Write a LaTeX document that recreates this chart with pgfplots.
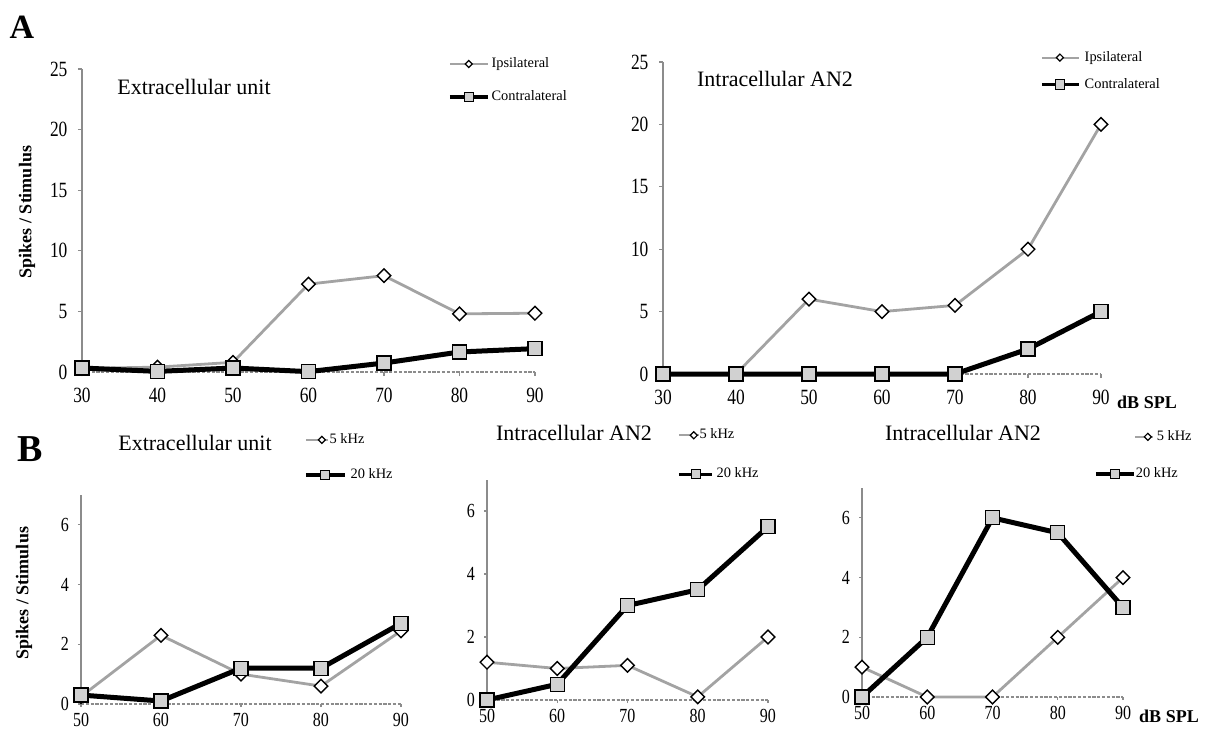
\documentclass[border=0pt]{standalone}
\usepackage{fontspec}
\setmainfont{Liberation Serif}
\usepackage{pgfplots}
\pgfplotsset{compat=1.18}

\definecolor{ipsigray}{gray}{0.64}
\definecolor{markfill}{gray}{0.82}
\definecolor{axisgray}{gray}{0.55}

\pgfplotsset{
  panel/.style={
    scale only axis,
    axis lines*=left,
    axis line style={axisgray, line width=0.7pt},
    x axis line style={dash pattern=on 1.6pt off 0.8pt},
    tick align=outside,
    major tick length=2pt,
    tick style={axisgray, line width=0.6pt},
    /pgf/number format/assume math mode=true,
    xticklabel={\scalebox{1}[1.25]{\pgfmathprintnumber{\tick}}},
    yticklabel={\scalebox{1}[1.25]{\pgfmathprintnumber{\tick}}},
    clip=false,
    ymin=0,
    legend cell align=left,
    legend style={draw=none, fill=none, inner sep=0pt, outer sep=0pt, anchor=north west,
      nodes={inner sep=0pt, text height=5pt, text depth=1.5pt,
             font=\fontsize{7.2}{7.2}\selectfont}},
  },
  panelA/.style={panel, xmin=30, xmax=90, xtick={30,40,...,90},
    ymax=25, ytick={0,5,...,25},
    tick label style={font=\fontsize{8.7}{9}\selectfont},
    xticklabel style={yshift=-2.5pt}, yticklabel style={xshift=-1.75pt}},
  panelB/.style={panel, xmin=50, xmax=90, xtick={50,60,...,90},
    ymax=7, ytick={0,2,4,6},
    major tick length=1.5pt,
    tick label style={font=\fontsize{8}{8}\selectfont},
    xticklabel style={yshift=0.3pt}, yticklabel style={xshift=-1pt}},
  ipsi/.style={ipsigray, line width=1.4pt, mark=square*, mark size=2.4pt,
    mark options={rotate=45, fill=white, draw=black, line width=0.7pt, solid}},
  contra/.style={black, line width=2.5pt, mark=square*, mark size=3.5pt,
    mark options={fill=markfill, draw=black, line width=0.6pt, solid}},
}

\begin{document}
\begin{tikzpicture}
\useasboundingbox (0,0) rectangle (603.5pt,-364.5pt);

% ---------------- A, left: extracellular unit ----------------
\begin{axis}[panelA, at={(41pt,-186pt)}, anchor=south west,
  width=226.5pt, height=151.5pt,
  legend style={at={(0.808,1.038)}, row sep=10pt, column sep=1pt}]
\addplot[ipsi, legend image code/.code={
  \draw[ipsigray, line width=1pt, mark=square*, mark size=1.25pt, mark repeat=2, mark phase=2,
        mark options={rotate=45, fill=white, draw=black, line width=0.6pt}]
        plot coordinates {(0pt,0pt) (9.5pt,0pt) (19pt,0pt)};}]
  coordinates {(30,0.3) (40,0.4) (50,0.8) (60,7.25) (70,7.95) (80,4.8) (90,4.85)};
\addlegendentry{Ipsilateral}
\addplot[contra, legend image code/.code={
  \draw[black, line width=1.8pt, mark=square*, mark size=2.3pt, mark repeat=2, mark phase=2,
        mark options={fill=markfill, draw=black, line width=0.5pt}]
        plot coordinates {(0pt,0pt) (9.5pt,0pt) (19pt,0pt)};}]
  coordinates {(30,0.33) (40,0.05) (50,0.33) (60,0.03) (70,0.74) (80,1.65) (90,1.93)};
\addlegendentry{Contralateral}
\end{axis}

% ---------------- A, right: intracellular AN2 ----------------
\begin{axis}[panelA, at={(331.5pt,-187pt)}, anchor=south west,
  width=219pt, height=156pt,
  legend style={at={(0.861,1.035)}, row sep=7pt, column sep=2pt}]
\addplot[ipsi, legend image code/.code={
  \draw[ipsigray, line width=1pt, mark=square*, mark size=1.25pt, mark repeat=2, mark phase=2,
        mark options={rotate=45, fill=white, draw=black, line width=0.6pt}]
        plot coordinates {(0pt,0pt) (9pt,0pt) (18.5pt,0pt)};}]
  coordinates {(30,0) (40,0) (50,6) (60,5) (70,5.5) (80,10) (90,20)};
\addlegendentry{Ipsilateral}
\addplot[contra, legend image code/.code={
  \draw[black, line width=1.8pt, mark=square*, mark size=2.3pt, mark repeat=2, mark phase=2,
        mark options={fill=markfill, draw=black, line width=0.5pt}]
        plot coordinates {(0pt,0pt) (9pt,0pt) (18.5pt,0pt)};}]
  coordinates {(30,0) (40,0) (50,0) (60,0) (70,0) (80,2) (90,5)};
\addlegendentry{Contralateral}
\end{axis}

% ---------------- B, left: extracellular unit ----------------
\begin{axis}[panelB, at={(40.5pt,-352pt)}, anchor=south west,
  width=160pt, height=104.5pt,
  legend style={at={(0.697,1.295)}, row sep=11pt, column sep=2pt}]
\addplot[ipsi, legend image code/.code={
  \draw[ipsigray, line width=1pt, mark=square*, mark size=1.25pt, mark repeat=2, mark phase=2,
        mark options={rotate=45, fill=white, draw=black, line width=0.6pt}]
        plot coordinates {(0pt,0pt) (8pt,0pt) (11pt,0pt)};}]
  coordinates {(50,0.25) (60,2.3) (70,1.0) (80,0.6) (90,2.45)};
\addlegendentry{\hspace*{-10.5pt}5 kHz}
\addplot[contra, legend image code/.code={
  \draw[black, line width=1.8pt, mark=square*, mark size=2.3pt, mark repeat=2, mark phase=2,
        mark options={fill=markfill, draw=black, line width=0.5pt}]
        plot coordinates {(0pt,0pt) (9.5pt,0pt) (19.5pt,0pt)};}]
  coordinates {(50,0.3) (60,0.1) (70,1.2) (80,1.2) (90,2.7)};
\addlegendentry{20 kHz}
\end{axis}

% ---------------- B, middle: intracellular AN2 ----------------
\begin{axis}[panelB, at={(243.5pt,-350pt)}, anchor=south west,
  width=140.5pt, height=110.25pt,
  legend style={at={(0.676,1.230)}, row sep=13pt, column sep=1.5pt}]
\addplot[ipsi, legend image code/.code={
  \draw[ipsigray, line width=1pt, mark=square*, mark size=1.25pt, mark repeat=2, mark phase=2,
        mark options={rotate=45, fill=white, draw=black, line width=0.6pt}]
        plot coordinates {(0pt,0pt) (7.5pt,0pt) (10pt,0pt)};}]
  coordinates {(50,1.2) (60,1.0) (70,1.1) (80,0.1) (90,2.0)};
\addlegendentry{\hspace*{-8.5pt}5 kHz}
\addplot[contra, legend image code/.code={
  \draw[black, line width=1.8pt, mark=square*, mark size=2.3pt, mark repeat=2, mark phase=2,
        mark options={fill=markfill, draw=black, line width=0.5pt}]
        plot coordinates {(0pt,0pt) (8.5pt,0pt) (16.5pt,0pt)};}]
  coordinates {(50,0) (60,0.5) (70,3.0) (80,3.5) (90,5.5)};
\addlegendentry{20 kHz}
\end{axis}

% ---------------- B, right: intracellular AN2 ----------------
\begin{axis}[panelB, at={(431pt,-348.5pt)}, anchor=south west,
  width=130.5pt, height=104.5pt,
  legend style={at={(0.889,1.276)}, row sep=12pt, column sep=0.5pt}]
\addplot[ipsi, legend image code/.code={
  \draw[ipsigray, line width=1pt, mark=square*, mark size=1.25pt, mark repeat=2, mark phase=2,
        mark options={rotate=45, fill=white, draw=black, line width=0.6pt}]
        plot coordinates {(19.5pt,0pt) (26pt,0pt) (28.5pt,0pt)};}]
  coordinates {(50,1) (60,0) (70,0) (80,2) (90,4)};
\addlegendentry{\hspace*{1pt}5 kHz}
\addplot[contra, legend image code/.code={
  \draw[black, line width=1.8pt, mark=square*, mark size=2.3pt, mark repeat=2, mark phase=2,
        mark options={fill=markfill, draw=black, line width=0.5pt}]
        plot coordinates {(0pt,0pt) (9.5pt,0pt) (19pt,0pt)};}]
  coordinates {(50,0) (60,2) (70,6) (80,5.5) (90,3)};
\addlegendentry{\hspace*{-9.5pt}20 kHz}
\end{axis}

% ---------------- panel letters, titles and axis labels ----------------
\begin{scope}[x=0.5pt, y=-0.5pt]
  \node[font=\fontsize{17}{17}\selectfont\bfseries] at (22,27) {A};
  \node[font=\fontsize{19}{19}\selectfont\bfseries] at (30,449) {B};
  \node[font=\fontsize{11}{11}\selectfont] at (194,87) {Extracellular unit};
  \node[font=\fontsize{11}{11}\selectfont] at (775,79) {Intracellular AN2};
  \node[font=\fontsize{11}{11}\selectfont] at (195,443) {Extracellular unit};
  \node[font=\fontsize{11}{11}\selectfont] at (574,433) {Intracellular AN2};
  \node[font=\fontsize{11}{11}\selectfont] at (963,433) {Intracellular AN2};
  \node[font=\fontsize{9}{9}\selectfont\bfseries, rotate=90] at (27,212) {Spikes / Stimulus};
  \node[font=\fontsize{9}{9}\selectfont\bfseries, rotate=90] at (24,593) {Spikes / Stimulus};
  \node[font=\fontsize{9}{9}\selectfont\bfseries] at (1147,402) {dB SPL};
  \node[font=\fontsize{9}{9}\selectfont\bfseries] at (1169,716) {dB SPL};
\end{scope}
\end{tikzpicture}
\end{document}
